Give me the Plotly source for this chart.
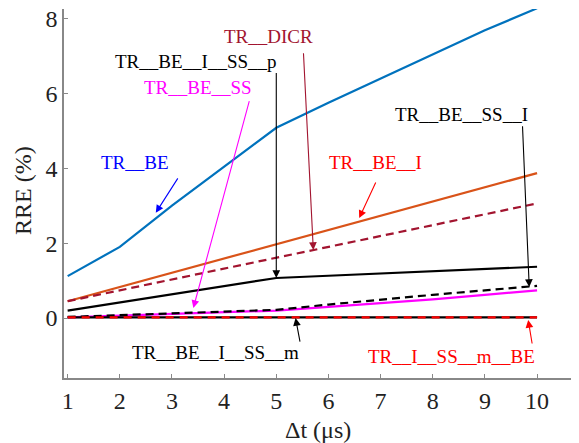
import plotly.graph_objects as go

dt = [1, 2, 3, 4, 5, 6, 7, 8, 9, 10]

tr_be = [1.12, 1.9, 3.0, 4.05, 5.08, 5.75, 6.4, 7.05, 7.68, 8.27]
tr_be_i = [0.45, 0.83, 1.21, 1.59, 1.99, 2.37, 2.74, 3.11, 3.49, 3.87]
tr_dicr = [0.45, 0.74, 1.03, 1.32, 1.61, 1.90, 2.19, 2.48, 2.77, 3.06]
tr_be_i_ss_p = [0.2, 0.42, 0.64, 0.86, 1.07, 1.13, 1.19, 1.25, 1.31, 1.37]
tr_be_ss = [0.02, 0.06, 0.1, 0.15, 0.2, 0.3, 0.4, 0.5, 0.62, 0.74]
tr_be_ss_i = [0.03, 0.08, 0.12, 0.17, 0.22, 0.36, 0.5, 0.62, 0.74, 0.86]
tr_be_i_ss_m = [0.02, 0.02, 0.02, 0.02, 0.02, 0.02, 0.02, 0.02, 0.02, 0.02]
tr_i_ss_m_be = [0.02, 0.02, 0.02, 0.02, 0.02, 0.02, 0.02, 0.02, 0.02, 0.02]

x_ticks = [1, 2, 3, 4, 5, 6, 7, 8, 9, 10]
y_ticks = [0, 2, 4, 6, 8]

FONT = "Liberation Serif"

series = [
    ("TR__BE", tr_be, "#0072BD", "solid"),
    ("TR__BE__I", tr_be_i, "#D95319", "solid"),
    ("TR__DICR", tr_dicr, "#A2142F", "8px,5px"),
    ("TR__BE__I__SS__p", tr_be_i_ss_p, "#000000", "solid"),
    ("TR__BE__SS", tr_be_ss, "#FF00FF", "solid"),
    ("TR__BE__SS__I", tr_be_ss_i, "#000000", "8px,5px"),
    ("TR__BE__I__SS__m", tr_be_i_ss_m, "#000000", "solid"),
    ("TR__I__SS__m__BE", tr_i_ss_m_be, "#FF0000", "8px,6px"),
]

fig = go.Figure()
for name, ys, color, dash in series:
    fig.add_trace(go.Scatter(x=dt, y=ys, mode="lines", name=name,
                             line=dict(color=color, width=2.2, dash=dash),
                             showlegend=False, cliponaxis=True))

# labels: (text, color, text_x, text_y, tail_x, tail_y, tip_x, tip_y)
labels = [
    ("TR__DICR", "#A2142F", 4.85, 7.51, 5.52, 7.11, 5.71, 1.82),
    ("TR__BE__I__SS__p", "#000000", 3.47, 6.84, 5.0, 6.58, 5.0, 1.07),
    ("TR__BE__SS", "#FF00FF", 3.49, 6.15, 4.49, 5.83, 3.41, 0.27),
    ("TR__BE", "#0000FF", 2.30, 4.14, 3.13, 3.77, 2.69, 2.81),
    ("TR__BE__I", "#FF0000", 6.90, 4.14, 6.92, 3.66, 6.59, 2.67),
    ("TR__BE__SS__I", "#000000", 8.55, 5.43, 9.72, 5.16, 9.85, 0.83),
    ("TR__BE__I__SS__m", "#000000", 3.84, -0.91, 5.46, -0.67, 5.37, 0.0),
    ("TR__I__SS__m__BE", "#FF0000", 8.36, -1.02, 9.91, -0.72, 9.83, -0.05),
]

for text, color, tx, ty, ax_, ay_, px, py in labels:
    fig.add_annotation(x=tx, y=ty, text=text, showarrow=False,
                       font=dict(family=FONT, size=19, color=color))
    fig.add_annotation(x=px, y=py, ax=ax_, ay=ay_, axref="x", ayref="y",
                       xref="x", yref="y", text="", showarrow=True,
                       arrowhead=2, arrowsize=1.4, arrowwidth=1.1,
                       arrowcolor=color, standoff=0, startstandoff=0)

# axis titles
fig.add_annotation(xref="paper", yref="paper", x=0.5, y=-0.141,
                   text="Δt (μs)", showarrow=False, xanchor="center", yanchor="middle",
                   font=dict(family=FONT, size=24, color="#222222"))
fig.add_annotation(xref="paper", yref="paper", x=-0.081, y=0.509,
                   text="RRE (%)", showarrow=False, textangle=-90,
                   xanchor="center", yanchor="middle",
                   font=dict(family=FONT, size=24, color="#222222"))

axis_common = dict(showgrid=False, zeroline=False, showline=True,
                   linecolor="#888888", linewidth=1.5, ticks="inside",
                   ticklen=4, tickcolor="#888888", tickwidth=1,
                   tickfont=dict(family=FONT, size=24, color="#222222"),
                   mirror=False, automargin=False, ticklabeloverflow="allow")

fig.update_xaxes(range=[0.93, 10.67], tickvals=x_ticks, **axis_common)
fig.update_yaxes(range=[-1.6, 8.25], tickvals=y_ticks, **axis_common)

# page body adds an 8px offset; size the figure so the plot area lands where the reference has it
fig.update_layout(width=571, height=435, plot_bgcolor="white", paper_bgcolor="white",
                  font=dict(family=FONT),
                  margin=dict(l=56, r=7, t=1, b=65), showlegend=False)

fig.write_html("out.html")
